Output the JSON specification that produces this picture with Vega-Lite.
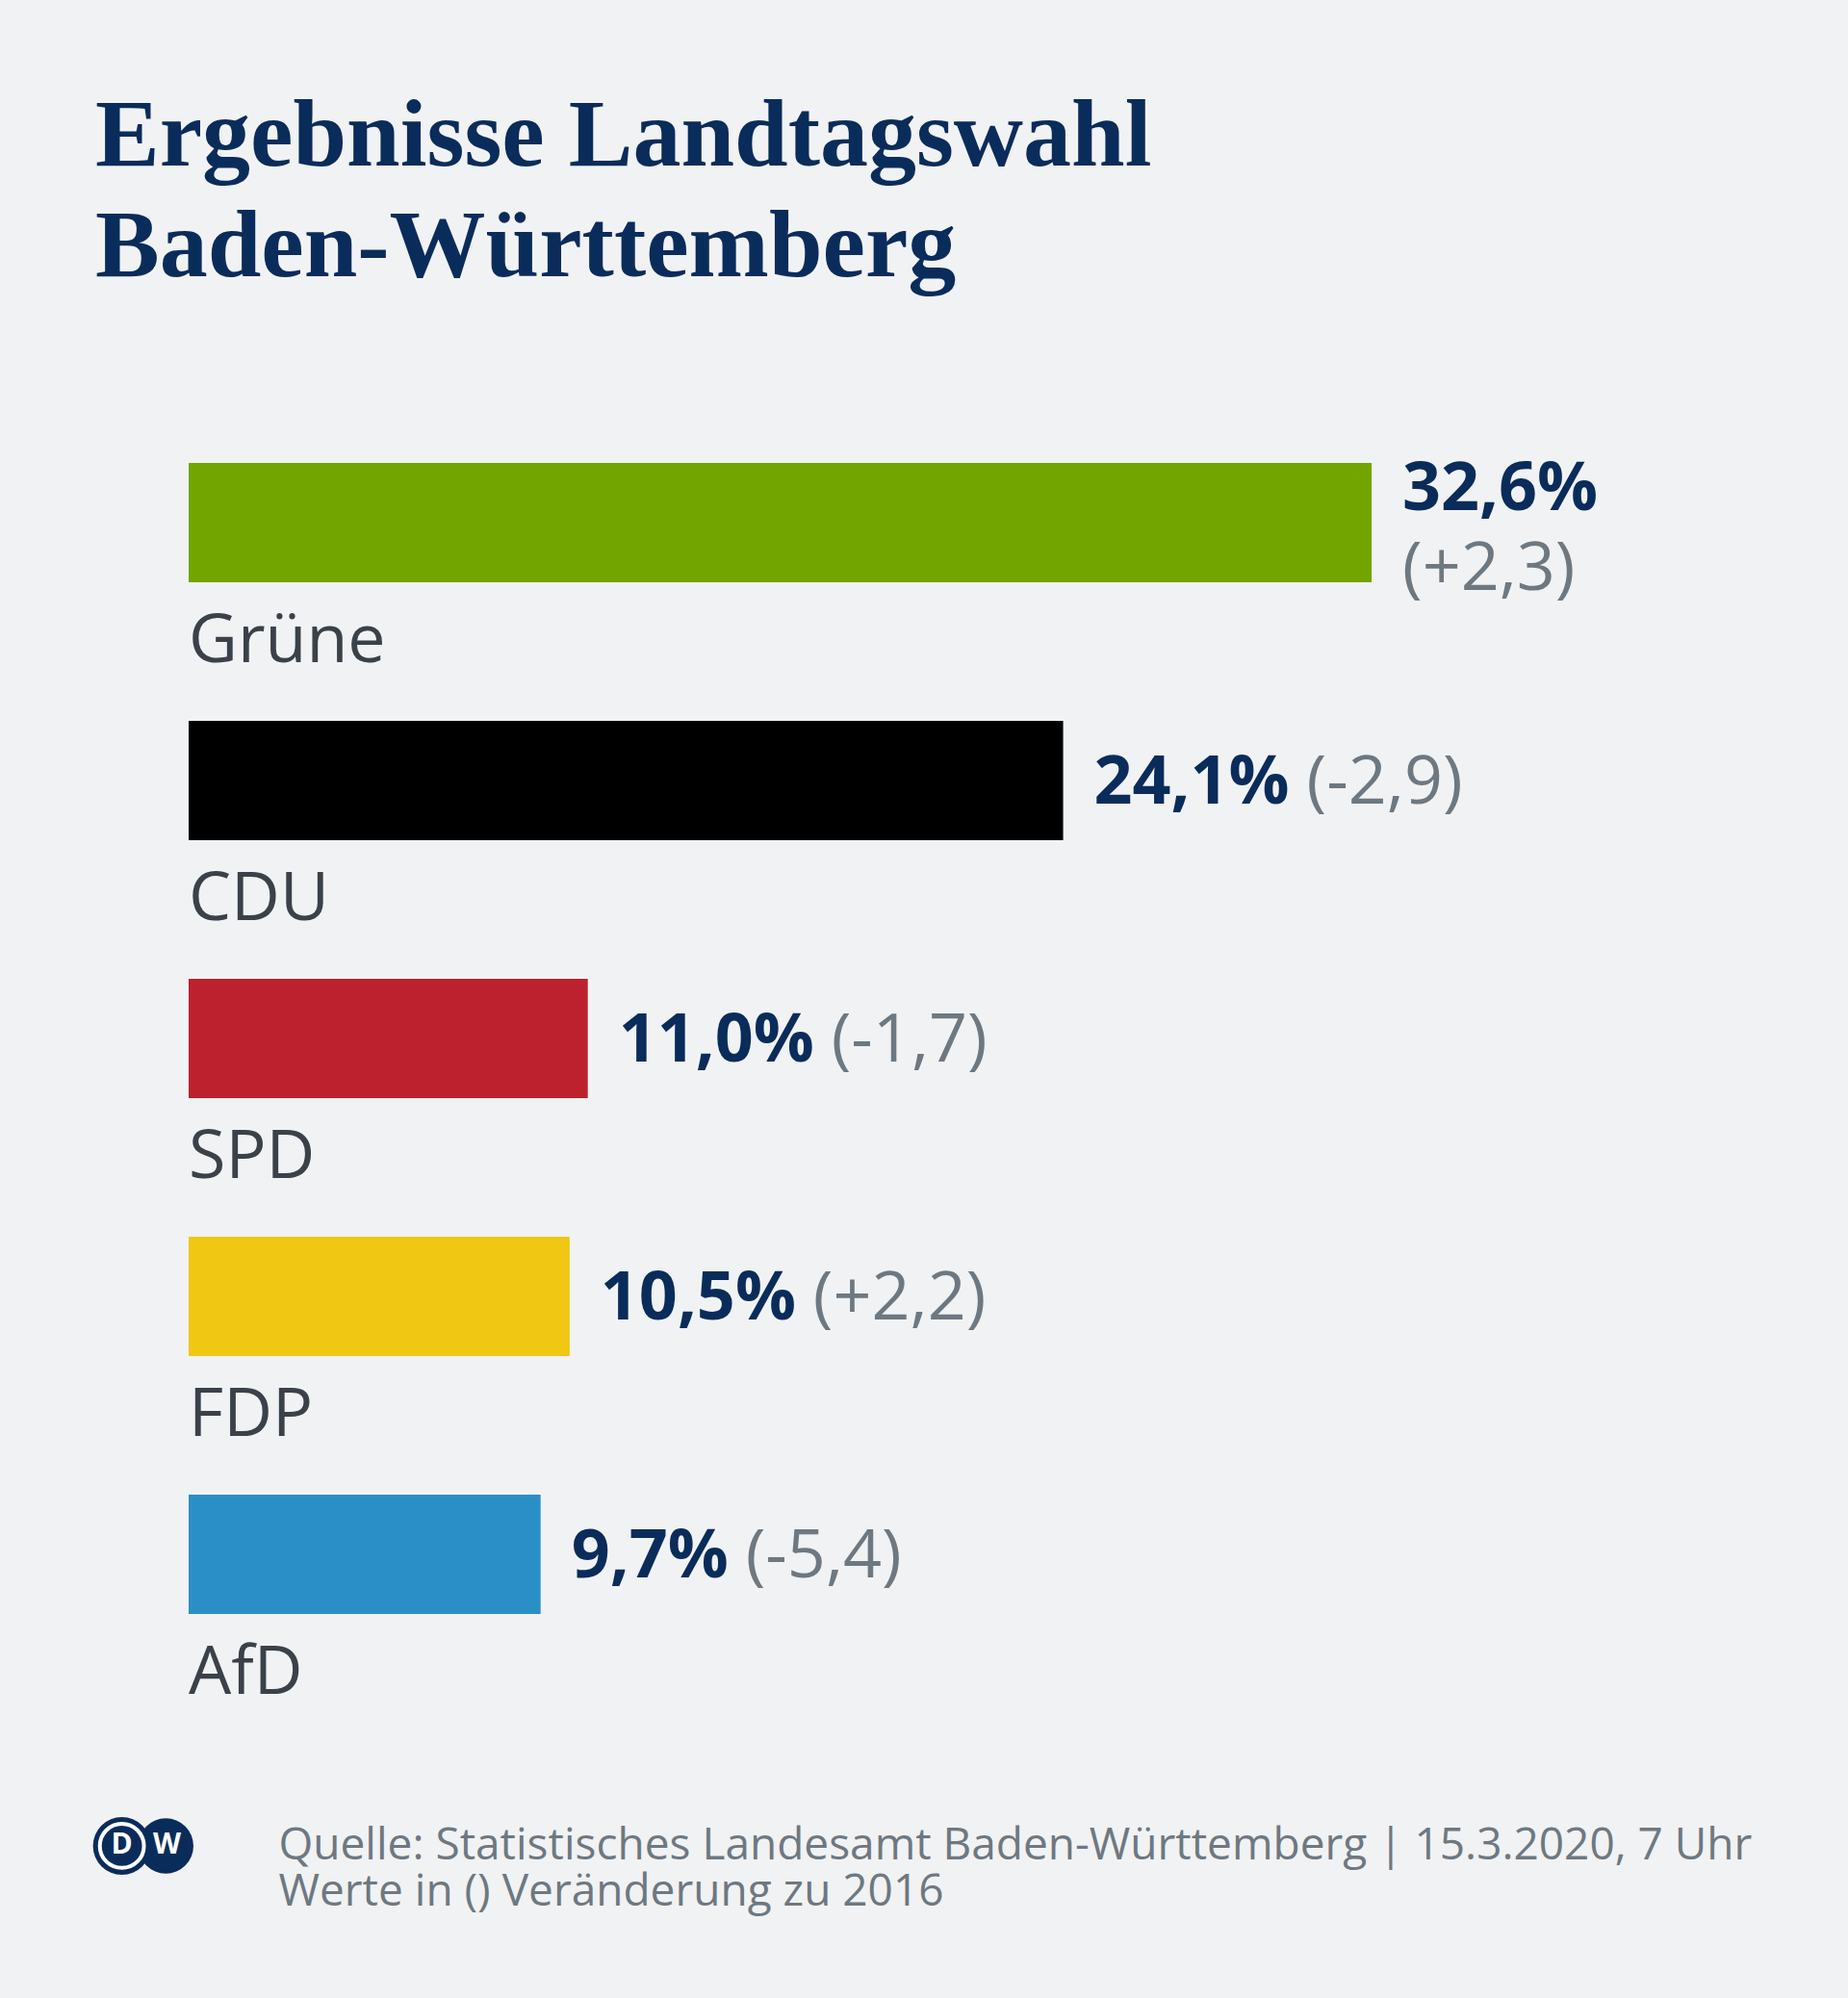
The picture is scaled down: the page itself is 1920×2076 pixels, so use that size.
{
  "$schema": "https://vega.github.io/schema/vega-lite/v6.json",
  "autosize": {"type": "none"},
  "width": 1508,
  "height": 1340,
  "padding": {"left": 196, "top": 409, "right": 216, "bottom": 327},
  "background": "#f1f2f4",
  "title": {
    "text": ["Ergebnisse Landtagswahl", "Baden-Württemberg"],
    "anchor": "start",
    "frame": "group",
    "font": "Liberation Serif",
    "fontSize": 100,
    "fontWeight": "bold",
    "color": "#0a2c5a",
    "lineHeight": 115,
    "baseline": "alphabetic",
    "dx": -97,
    "offset": 22
  },
  "data": {
    "values": [
      {"party": "Grüne", "value": 32.6, "label": "32,6%", "change": "(+2,3)"},
      {"party": "CDU", "value": 24.1, "label": "24,1%", "change": "(-2,9)"},
      {"party": "SPD", "value": 11.0, "label": "11,0%", "change": "(-1,7)"},
      {"party": "FDP", "value": 10.5, "label": "10,5%", "change": "(+2,2)"},
      {"party": "AfD", "value": 9.7, "label": "9,7%", "change": "(-5,4)"}
    ]
  },
  "encoding": {
    "y": {
      "field": "party",
      "type": "nominal",
      "sort": null,
      "scale": {"paddingInner": 0.537, "paddingOuter": 0.2685},
      "axis": null
    }
  },
  "layer": [
    {
      "mark": {"type": "bar"},
      "encoding": {
        "x": {
          "field": "value",
          "type": "quantitative",
          "scale": {"domain": [0, 40], "nice": false},
          "axis": {
            "labels": false,
            "ticks": false,
            "domain": false,
            "grid": false,
            "title": ["Quelle: Statistisches Landesamt Baden-Württemberg | 15.3.2020, 7 Uhr", "Werte in () Veränderung zu 2016"],
            "titleFont": "Open Sans",
            "titleFontSize": 46,
            "titleFontWeight": "normal",
            "titleColor": "#6e7880",
            "titleLineHeight": 48,
            "titleAnchor": "start",
            "titleAlign": "left",
            "titleBaseline": "alphabetic",
            "titleX": 93,
            "titleY": 182
          }
        },
        "color": {
          "field": "party",
          "type": "nominal",
          "scale": {
            "domain": ["Grüne", "CDU", "SPD", "FDP", "AfD"],
            "range": ["#72a500", "#000000", "#bd212e", "#f0c712", "#2b8fc7"]
          },
          "legend": null
        }
      }
    },
    {
      "mark": {"type": "text", "align": "left", "baseline": "alphabetic", "dy": 145, "font": "Open Sans", "fontSize": 70, "color": "#3a4149"},
      "encoding": {
        "x": {"datum": 0},
        "text": {"field": "party"}
      }
    },
    {
      "transform": [{"filter": "datum.party != 'Grüne'"}],
      "mark": {"type": "text", "align": "left", "baseline": "alphabetic", "dx": 32, "dy": 24, "font": "Open Sans", "fontWeight": "bold", "fontSize": 70, "color": "#0a2c5a"},
      "encoding": {
        "x": {"field": "value", "type": "quantitative"},
        "text": {"field": "label"}
      }
    },
    {
      "transform": [{"filter": "datum.party != 'Grüne'"}],
      "mark": {"type": "text", "align": "left", "baseline": "alphabetic", "dx": {"expr": "53 + 40 * length(datum.label)"}, "dy": 24, "font": "Open Sans", "fontSize": 70, "color": "#6e7880"},
      "encoding": {
        "x": {"field": "value", "type": "quantitative"},
        "text": {"field": "change"}
      }
    },
    {
      "transform": [{"filter": "datum.party == 'Grüne'"}],
      "mark": {"type": "text", "align": "left", "baseline": "alphabetic", "dx": 32, "dy": -13, "font": "Open Sans", "fontWeight": "bold", "fontSize": 70, "color": "#0a2c5a"},
      "encoding": {
        "x": {"field": "value", "type": "quantitative"},
        "text": {"field": "label"}
      }
    },
    {
      "transform": [{"filter": "datum.party == 'Grüne'"}],
      "mark": {"type": "text", "align": "left", "baseline": "alphabetic", "dx": 32, "dy": 70, "font": "Open Sans", "fontSize": 70, "color": "#6e7880"},
      "encoding": {
        "x": {"field": "value", "type": "quantitative"},
        "text": {"field": "change"}
      }
    },
    {
      "data": {"values": [{"logo": "W"}]},
      "mark": {"type": "point", "shape": "circle", "filled": true, "size": 3300, "opacity": 1, "color": "#0a2c5a"},
      "encoding": {
        "x": {"datum": -0.63},
        "y": {"datum": "AfD"},
        "yOffset": {"value": 365}
      }
    },
    {
      "data": {"values": [{"logo": "D"}]},
      "mark": {"type": "point", "shape": "circle", "filled": true, "size": 3600, "opacity": 1, "color": "#0a2c5a"},
      "encoding": {
        "x": {"datum": -1.84},
        "y": {"datum": "AfD"},
        "yOffset": {"value": 365}
      }
    },
    {
      "data": {"values": [{"logo": "ring"}]},
      "mark": {"type": "point", "shape": "circle", "filled": false, "size": 2100, "opacity": 1, "stroke": "#ffffff", "strokeWidth": 4},
      "encoding": {
        "x": {"datum": -1.84},
        "y": {"datum": "AfD"},
        "yOffset": {"value": 365}
      }
    },
    {
      "data": {"values": [{"logo": "D"}]},
      "mark": {"type": "text", "align": "center", "baseline": "middle", "dy": 302, "font": "Open Sans", "fontWeight": "bold", "fontSize": 30, "color": "#ffffff"},
      "encoding": {
        "x": {"datum": -1.84},
        "y": {"datum": "AfD"},
        "text": {"field": "logo"}
      }
    },
    {
      "data": {"values": [{"logo": "W"}]},
      "mark": {"type": "text", "align": "center", "baseline": "middle", "dy": 302, "font": "Open Sans", "fontWeight": "bold", "fontSize": 30, "color": "#ffffff"},
      "encoding": {
        "x": {"datum": -0.6},
        "y": {"datum": "AfD"},
        "text": {"field": "logo"}
      }
    }
  ],
  "config": {
    "view": {"stroke": null},
    "text": {"font": "Open Sans"}
  }
}
